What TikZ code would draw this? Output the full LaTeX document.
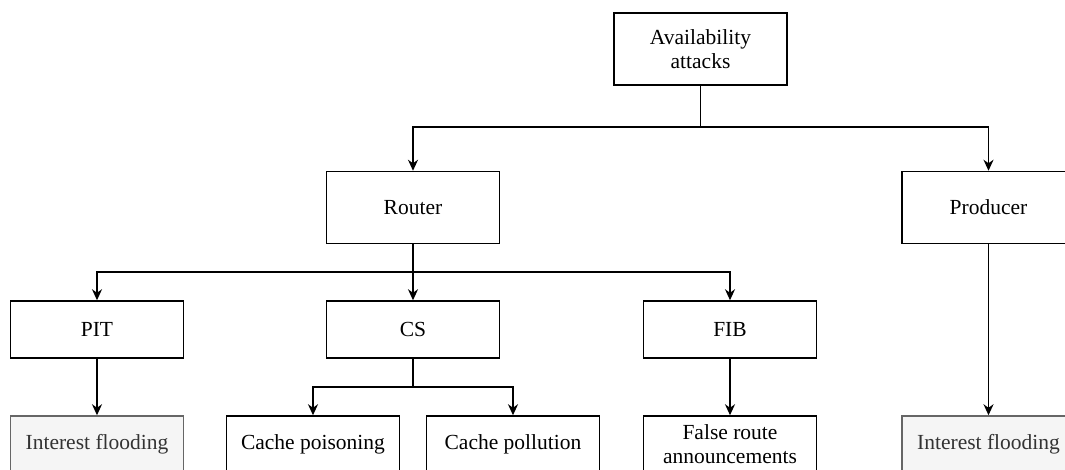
\documentclass[tikz,border=0pt]{standalone}
\usepackage{fontspec}
\setmainfont{Liberation Serif}
\usetikzlibrary{arrows.meta}
\begin{document}
\begin{tikzpicture}[x=1pt,y=-1pt,
  box/.style={draw=black, line width=1.5pt, fill=white, inner sep=0pt,
    minimum width=173pt, align=center,
    font=\fontsize{21.5}{24}\selectfont},
  tall/.style={box, minimum height=72pt},
  mid/.style={box, minimum height=57pt},
  leaf/.style={box, minimum height=57pt, fill=black!4, draw=black!60, text=black!80},
  arr/.style={line width=1.5pt, -{Stealth[length=11pt,width=10pt,inset=3.5pt]}},
  link/.style={line width=1.5pt}]
\useasboundingbox (0,0) rectangle (1065,469);
\clip (0,0) rectangle (1065,469);

% level 0
\node[tall] (av) at (700.5,49) {Availability\\attacks};
% level 1
\node[tall] (router) at (413,207.5) {Router};
\node[tall] (prod) at (988.5,207.5) {Producer};
% level 2
\node[mid] (pit) at (97,329.5) {PIT};
\node[mid] (cs) at (413,329.5) {CS};
\node[mid] (fib) at (730,329.5) {FIB};
% level 3
\node[leaf] (if1) at (97,444.5) {Interest flooding};
\node[mid] (cpois) at (313,444.5) {Cache poisoning};
\node[mid] (cpoll) at (513,444.5) {Cache pollution};
\node[mid] (frA) at (730,444.5) {False route\\announcements};
\node[leaf] (if2) at (988.5,444.5) {Interest flooding};

% branch points
\coordinate (j1) at (700.5,127);
\coordinate (j2) at (413,272);
\coordinate (j3) at (413,387);

% connectors
\draw[link] (av.south) -- (j1);
\draw[arr] (j1) -| (router.north);
\draw[arr] (j1) -| (prod.north);

\draw[link] (router.south) -- (j2);
\draw[arr] (j2) -| (pit.north);
\draw[arr] (j2) -- (cs.north);
\draw[arr] (j2) -| (fib.north);

\draw[link] (cs.south) -- (j3);
\draw[arr] (j3) -| (cpois.north);
\draw[arr] (j3) -| (cpoll.north);

\draw[arr] (pit.south) -- (if1.north);
\draw[arr] (fib.south) -- (frA.north);
\draw[arr] (prod.south) -- (if2.north);
\end{tikzpicture}
\end{document}
